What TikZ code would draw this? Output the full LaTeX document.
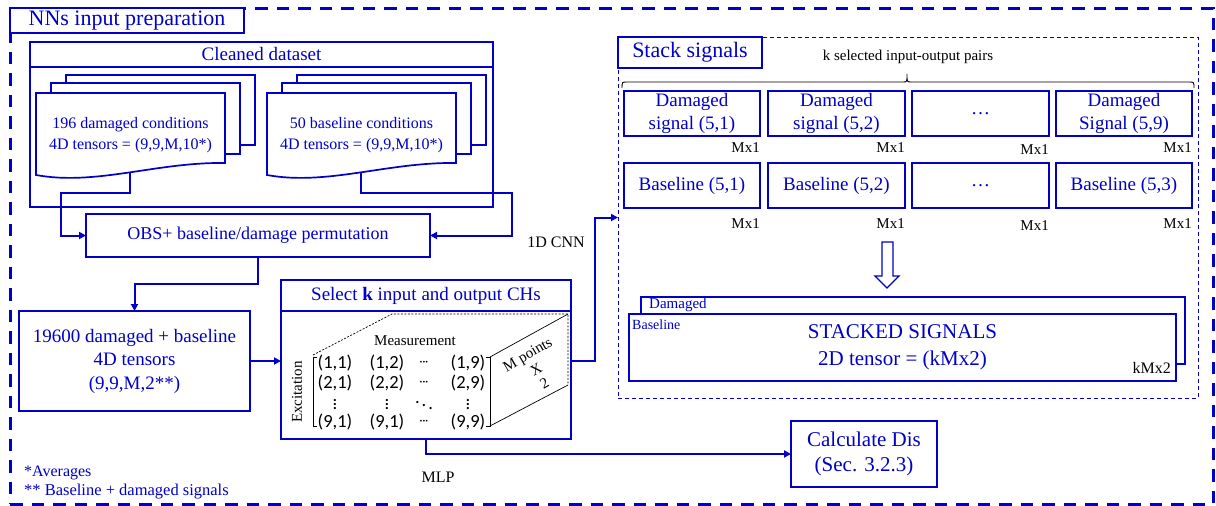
\documentclass[tikz,border=0pt]{standalone}
\usepackage{fontspec}
\setmainfont{Liberation Serif}
\newfontfamily\calfont{Carlito}
\usetikzlibrary{arrows.meta,calc}
\definecolor{nnblue}{RGB}{0,0,200}
\newcommand\setfs[2]{\fontsize{#1}{#2}\selectfont}
\begin{document}
\begin{tikzpicture}[x=1pt,y=-1pt,
  box/.style={draw=nnblue,line width=1.7pt,fill=white,text=nnblue,align=center,inner sep=0pt,outer sep=0pt},
  doc/.style={draw=nnblue,line width=1.7pt,fill=white},
  txt/.style={text=nnblue,align=center,inner sep=0pt},
  dim/.style={text=black,align=center,inner sep=0pt},
  arr/.style={draw=nnblue,line width=2pt,-{Triangle[length=7pt,width=7pt]}},
  cell/.style={text=black,inner sep=0pt,font=\calfont\setfs{18.5}{20}},
  thin3d/.style={draw=black,line width=0.7pt},
]
\useasboundingbox (0,0) rectangle (1216,506);

% outer container
\node[draw=nnblue,line width=3pt,dash pattern=on 12.5pt off 9pt,minimum width=1203,minimum height=496,inner sep=0pt,outer sep=0pt] (frame) at (611.5,256) {};
\node[box,minimum width=234,minimum height=25,font=\setfs{22}{26}] (title) at (127,20.5) {NNs input preparation};

% cleaned dataset block
\node[box,minimum width=463,minimum height=165] (clean) at (261.5,124.5) {};
\node[box,minimum width=463,minimum height=25,font=\setfs{19}{22}] (cleanhd) at (261.5,54.5) {Cleaned dataset};

% stacked document sheets
\foreach \L in {36,267} {
  \draw[doc] (\L+30,75) rectangle (\L+219,145);
  \draw[doc] (\L+15,83) rectangle (\L+204,154);
  \draw[doc] (\L,93) -- (\L+189,93) -- (\L+189,163)
     .. controls (\L+120,162) and (\L+60,186) .. (\L,175) -- cycle;
}
\node[txt,font=\setfs{16}{21}] (docL) at (130.5,135) {196 damaged conditions\\4D tensors = (9,9,M,10*)};
\node[txt,font=\setfs{16}{21}] (docR) at (361.5,135) {50 baseline conditions\\4D tensors = (9,9,M,10*)};
\coordinate (docLb) at (130,172.5);
\coordinate (docRb) at (361,172.5);

% processing boxes
\node[box,minimum width=344,minimum height=43,font=\setfs{18}{22}] (obs) at (258,235.5) {OBS+ baseline/damage permutation};
\node[box,minimum width=231,minimum height=100,font=\setfs{19}{23.5}] (tens) at (134.5,361) {19600 damaged + baseline\\4D tensors\\(9,9,M,2**)};
\node[box,minimum width=290,minimum height=159] (sel) at (426,359.5) {};
\node[box,minimum width=290,minimum height=31,font=\setfs{19}{22}] (selhd) at (426,295.5) {Select \textbf{k} input and output CHs};
\node[box,minimum width=146,minimum height=66,font=\setfs{21}{25}] (calc) at (864,454) {Calculate Dis\\(Sec. 3.2.3)};

% channel matrix drawn as a box
\draw[thin3d,dash pattern=on 2pt off 1.5pt] (313,355) -- (392,314) -- (568,314) -- (568,385);
\draw[thin3d] (490,357) -- (568,314);
\draw[thin3d] (490,426) -- (568,385);
\draw[thin3d] (317,357) -- (313,357) -- (313,426) -- (317,426);
\draw[thin3d] (486,357) -- (490,357) -- (490,426) -- (486,426);
\foreach \y/\a/\b/\d in {363/(1{,}1)/(1{,}2)/(1{,}9),
                         383/(2{,}1)/(2{,}2)/(2{,}9),
                         422/(9{,}1)/(9{,}1)/(9{,}9)} {
  \node[cell] at (335,\y) {\a};
  \node[cell] at (387,\y) {\b};
  \node[cell] at (424,\y) {$\mathord{\cdot}\mkern-2mu\mathord{\cdot}\mkern-2mu\mathord{\cdot}$};
  \node[cell] at (468,\y) {\d};
}
\node[cell] at (335,402) {$\vdots$};
\node[cell] at (387,402) {$\vdots$};
\node[cell] at (424,402) {$\ddots$};
\node[cell] at (468,402) {$\vdots$};
\node[dim,font=\setfs{15}{18}] (meas) at (415,341) {Measurement};
\node[dim,rotate=90,font=\setfs{15}{18}] (exc) at (297,392) {Excitation};
\node[dim,rotate=30,font=\setfs{15}{17}] (mpts) at (536,369) {M points\\X\\2};

% stack signals container
\node[draw=nnblue,line width=1pt,dash pattern=on 4pt off 3pt,minimum width=580,minimum height=361,inner sep=0pt,outer sep=0pt] (stack) at (908,217.5) {};
\node[box,minimum width=144,minimum height=31,font=\setfs{22}{26}] (stackhd) at (690,52.5) {Stack signals};
\node[dim,font=\setfs{15}{18}] (ksel) at (908,57) {k selected input-output pairs};
\draw[black,line width=0.9pt] (622,88) .. controls (622,82) .. (627,82) -- (903,82)
   .. controls (907,82) .. (907,74) .. controls (907,82) .. (911,82) -- (1189,82)
   .. controls (1194,82) .. (1194,88);

\foreach \n/\x/\w/\t in {d1/692/136/{Damaged\\signal (5,1)},
                         d2/836.5/137/{Damaged\\signal (5,2)},
                         d3/980.5/137/{\ldots},
                         d4/1124/136/{Damaged\\Signal (5,9)}} {
  \node[box,minimum width=\w,minimum height=45,font=\setfs{19}{23}] (\n) at (\x,113.5) {\t};
}
\foreach \n/\x/\w/\t in {b1/692/136/{Baseline (5,1)},
                         b2/836.5/137/{Baseline (5,2)},
                         b3/980.5/137/{\ldots},
                         b4/1124/136/{Baseline (5,3)}} {
  \node[box,minimum width=\w,minimum height=45,font=\setfs{19}{23}] (\n) at (\x,185.5) {\t};
}
\foreach \n/\dy in {d1/16,d2/16,d3/18,d4/16,b1/20,b2/20,b3/22,b4/20} {
  \node[dim,anchor=base east,font=\setfs{15}{18}] at ($(\n.south east)+(0,\dy)$) {Mx1};
}

% hollow down arrow
\draw[draw=nnblue,line width=1.3pt,fill=white] (882,242) -- (893,242) -- (893,276) -- (899,276)
   -- (887,288) -- (875,276) -- (882,276) -- cycle;

% stacked signal sheets
\node[box,minimum width=544,minimum height=67] (stkb) at (913,330.5) {};
\node[box,minimum width=547,minimum height=67,font=\setfs{21}{27}] (stkf) at (902.5,347.5) {STACKED SIGNALS\\2D tensor = (kMx2)};
\node[txt,anchor=west,font=\setfs{15}{18}] at ($(stkb.north west)+(8,8)$) {Damaged};
\node[txt,anchor=west,font=\setfs{14}{17}] at ($(stkf.north west)+(3,11)$) {Baseline};
\node[dim,anchor=base east,font=\setfs{16}{19}] at (1171,373) {kMx2};

% connectors
\draw[arr] (docLb) -- (130,193) -- (61,193) |- (obs.west);
\draw[arr] (docRb) -- (361,193) -- (512,193) |- (obs.east);
\draw[arr] (obs.south) -- (258,284) -| (tens.north);
\draw[arr] (tens.east) -- (tens.east -| sel.west);
\draw[arr] (sel.east |- tens.east) -- (595,361) |- (stack.west);
\draw[arr] (sel.south) |- (calc.west);
\node[dim,font=\setfs{16}{19}] (cnn) at (556,242) {1D CNN};
\node[dim,font=\setfs{16}{19}] (mlp) at (438,477) {MLP};

% footnotes
\node[txt,anchor=west,font=\setfs{16}{19}] (note1) at (24,473) {*Averages};
\node[txt,anchor=west,font=\setfs{16.5}{19}] (note2) at (24,492) {** Baseline + damaged signals};
\end{tikzpicture}
\end{document}
